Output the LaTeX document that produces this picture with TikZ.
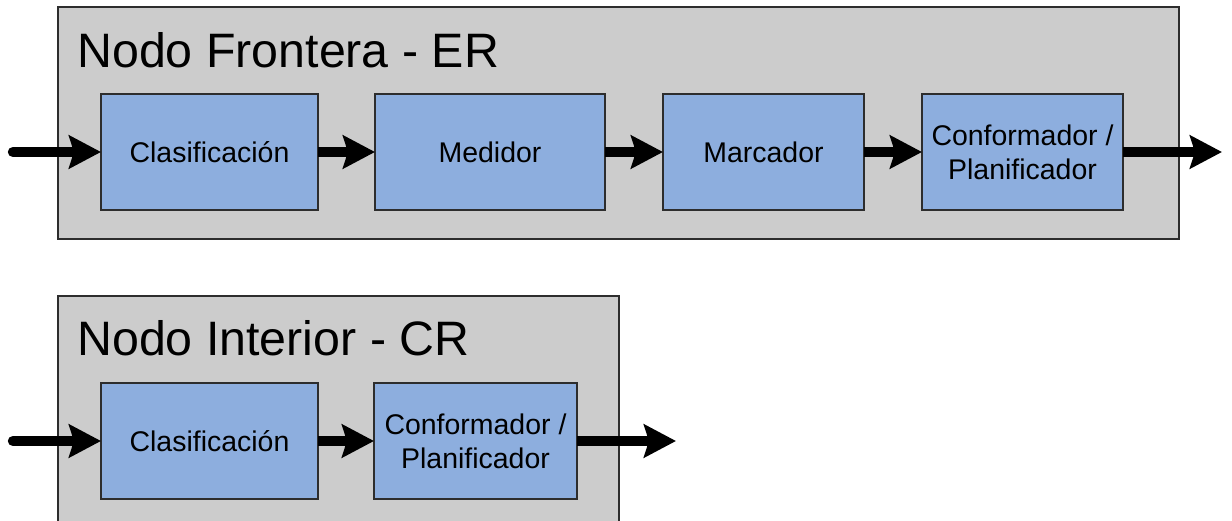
\documentclass[tikz,border=0pt]{standalone}
\usepackage{fontspec}
\setmainfont{Liberation Sans}
\usetikzlibrary{arrows.meta,positioning}
\definecolor{nodegray}{RGB}{204,204,204}
\definecolor{blockblue}{RGB}{141,174,222}
\definecolor{edgegray}{RGB}{45,45,45}

\begin{document}
\begin{tikzpicture}[
    block/.style={draw=edgegray, line width=0.9pt, fill=blockblue, outer sep=0pt,
                  minimum height=2.32cm, align=center,
                  font=\fontsize{16.2}{19.5}\selectfont},
    title/.style={anchor=base west, inner sep=0pt, font=\fontsize{27.5}{30}\selectfont},
    flow/.style={line width=5.9pt,
                 -{Stealth[length=0.64cm, width=0.66cm, inset=0.1cm]}},
    inflow/.style={flow, line cap=round}
  ]
  \useasboundingbox (0,0) rectangle (24.64,-10.42);
  \clip (0,0) rectangle (24.64,-10.42);

  % nodo frontera
  \draw[draw=edgegray, line width=0.9pt, fill=nodegray] (1.16,-0.14) rectangle (23.58,-4.78);
  \node[title] (ertitle) at (1.54,-1.34) {Nodo Frontera - ER};
  \node[block, minimum width=4.34cm] (erclas) at (4.19,-3.04) {Clasificación};
  \node[block, minimum width=4.60cm, right=1.14cm of erclas] (ermed) {Medidor};
  \node[block, minimum width=4.02cm, right=1.16cm of ermed] (ermarc) {Marcador};
  \node[block, minimum width=4.02cm, right=1.16cm of ermarc] (erconf) {Conformador /\\ Planificador};
  \coordinate (erin) at (0.26,-3.04);
  \coordinate (erout) at (24.44,-3.04);

  % nodo interior
  \draw[draw=edgegray, line width=0.9pt, fill=nodegray] (1.16,-5.92) rectangle (12.38,-11);
  \node[title] (crtitle) at (1.54,-7.10) {Nodo Interior - CR};
  \node[block, minimum width=4.34cm] (crclas) at (4.19,-8.82) {Clasificación};
  \node[block, minimum width=4.06cm, right=1.12cm of crclas] (crconf) {Conformador /\\ Planificador};
  \coordinate (crin) at (0.26,-8.82);
  \coordinate (crout) at (13.52,-8.82);

  \draw[inflow] (erin) -- (erclas);
  \draw[flow] (erclas) -- (ermed);
  \draw[flow] (ermed) -- (ermarc);
  \draw[flow] (ermarc) -- (erconf);
  \draw[flow] (erconf) -- (erout);

  \draw[inflow] (crin) -- (crclas);
  \draw[flow] (crclas) -- (crconf);
  \draw[flow] (crconf) -- (crout);
\end{tikzpicture}
\end{document}
